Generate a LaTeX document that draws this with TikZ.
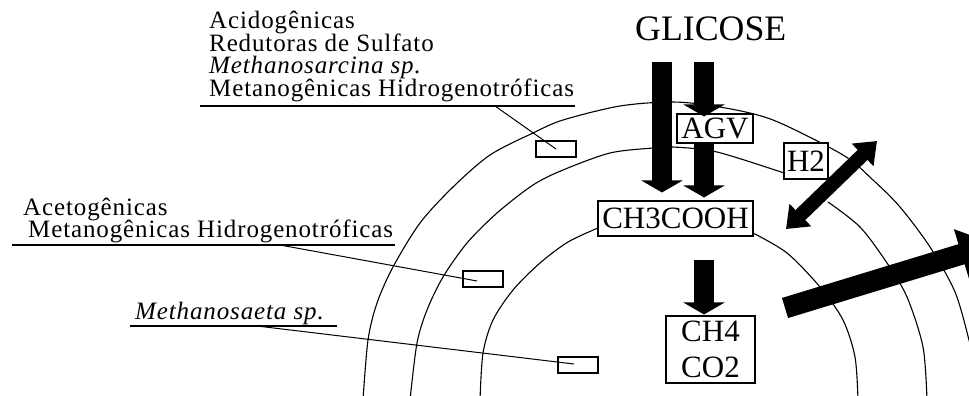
\documentclass[tikz,border=0pt]{standalone}
\usepackage{fontspec}
\setmainfont{Liberation Serif}
\newfontfamily\lblfont[LetterSpace=3.5]{Liberation Serif}
\usetikzlibrary{arrows.meta,calc}
\begin{document}
\begin{tikzpicture}[x=1pt,y=-1pt,
  arcline/.style={line width=1.1pt, line join=round, line cap=round},
  uline/.style={line width=1.4pt},
  leader/.style={line width=1pt},
  smallbox/.style={draw, line width=1.2pt, minimum width=40pt, minimum height=16pt, inner sep=0pt},
  chem/.style={draw, line width=1.1pt, fill=white, inner sep=0pt, font=\fontsize{31}{36}\selectfont},
  lbl/.style={anchor=base west, inner sep=0pt, font=\lblfont\fontsize{25}{28}\selectfont},
  fatdown/.style={line width=20pt, -{Triangle[width=41pt,length=12pt]}},
  dblarrow/.style={line width=14pt, {Triangle[width=30pt,length=20pt]}-{Triangle[width=30pt,length=20pt]}},
  bigarrow/.style={line width=21pt, -{Triangle[width=50pt,length=35pt]}}
]
\useasboundingbox (0,0) rectangle (969,396);
\clip (0,0) rectangle (969,396);

% arcs
\draw[arcline] plot[smooth, tension=0.5] coordinates {(363,400) (368,340) (377,303) (393,267) (420,223) (453,187) (490,155) (533,133) (563,120) (620,106) (673,102) (720,107) (773,120) (843,155) (873,180) (900,207) (930,247) (955,292) (969,340) (973,360)};
\draw[arcline] plot[smooth, tension=0.5] coordinates {(410,400) (417,343) (427,310) (443,277) (467,243) (497,213) (533,185) (563,170) (610,153) (653,148) (673,147) (717,152) (784,173)};
\draw[arcline] plot[smooth, tension=0.5] coordinates {(828,202) (860,227) (887,263) (907,297) (923,347) (927,400)};
\draw[arcline] plot[smooth, tension=0.5] coordinates {(480,400) (483,353) (493,320) (513,290) (540,263) (568,242) (598,228)};
\draw[arcline] plot[smooth, tension=0.5] coordinates {(753,233) (787,253) (820,287) (843,320) (855,357) (858,400)};

% labels
\node[lbl] (l1a) at (209,28.5) {Acidogênicas};
\node[lbl] (l1b) at (209,51.3) {Redutoras de Sulfato};
\node[lbl] (l1c) at (209,74) {\itshape Methanosarcina sp.};
\node[lbl] (l1d) at (209,96.8) {Metanogênicas Hidrogenotróficas};
\node[lbl] (l2a) at (23,215) {Acetogênicas};
\node[lbl] (l2b) at (28,237.7) {Metanogênicas Hidrogenotróficas};
\node[lbl] (l3) at (135,319) {\itshape Methanosaeta sp.};

% underlines
\coordinate (u1a) at (200,106); \coordinate (u1b) at (575,106); \coordinate (u1l) at (495,106);
\coordinate (u2a) at (12,245);  \coordinate (u2b) at (395,245); \coordinate (u2l) at (280,245);
\coordinate (u3a) at (130,326); \coordinate (u3b) at (337,326); \coordinate (u3l) at (257,326);
\draw[uline] (u1a) -- (u1b);
\draw[uline] (u2a) -- (u2b);
\draw[uline] (u3a) -- (u3b);

% small boxes
\node[smallbox] (sb1) at (556,149) {};
\node[smallbox] (sb2) at (483,279) {};
\node[smallbox] (sb3) at (578,365) {};
\draw[leader] (u1l) -- (sb1.center);
\draw[leader] (u2l) -- ([xshift=-6pt,yshift=-2pt]sb2.center);
\draw[leader] (u3l) -- ([xshift=-4pt,yshift=1pt]sb3.center);

% chemistry
\node[anchor=base west, inner sep=0pt, font=\fontsize{35.8}{40}\selectfont] (glic) at (635,41) {GLICOSE};
\node[chem, minimum width=76pt, minimum height=29pt] (agv) at (715,128.5) {AGV};
\node[chem, minimum width=44pt, minimum height=36pt] (h2) at (806,161) {H2};
\node[chem, minimum width=155pt, minimum height=35pt] (ch3) at (675.5,218.5) {CH3COOH};
\node[chem, minimum width=89pt, minimum height=67pt, align=center] (ch4) at (710.5,349.5) {CH4\\CO2};

% arrows
\coordinate (g1) at (662,62);
\coordinate (g2) at (704,62);
\draw[fatdown] (g1) -- ([yshift=8pt]g1 |- ch3.north);
\draw[fatdown] (g2) -- ([yshift=-3pt]g2 |- agv.north);
\draw[fatdown] (g2 |- agv.south) -- ([yshift=3pt]g2 |- ch3.north);
\draw[fatdown] ([yshift=-23pt]g2 |- ch3.south) -- ([yshift=1pt]g2 |- ch4.north);

\coordinate (d1) at (786,229);
\coordinate (d2) at (877,141);
\draw[dblarrow] (d1) -- (d2);

\coordinate (b1) at (785,308);
\coordinate (b2) at (995,244);
\draw[bigarrow] (b1) -- (b2);
\end{tikzpicture}
\end{document}
